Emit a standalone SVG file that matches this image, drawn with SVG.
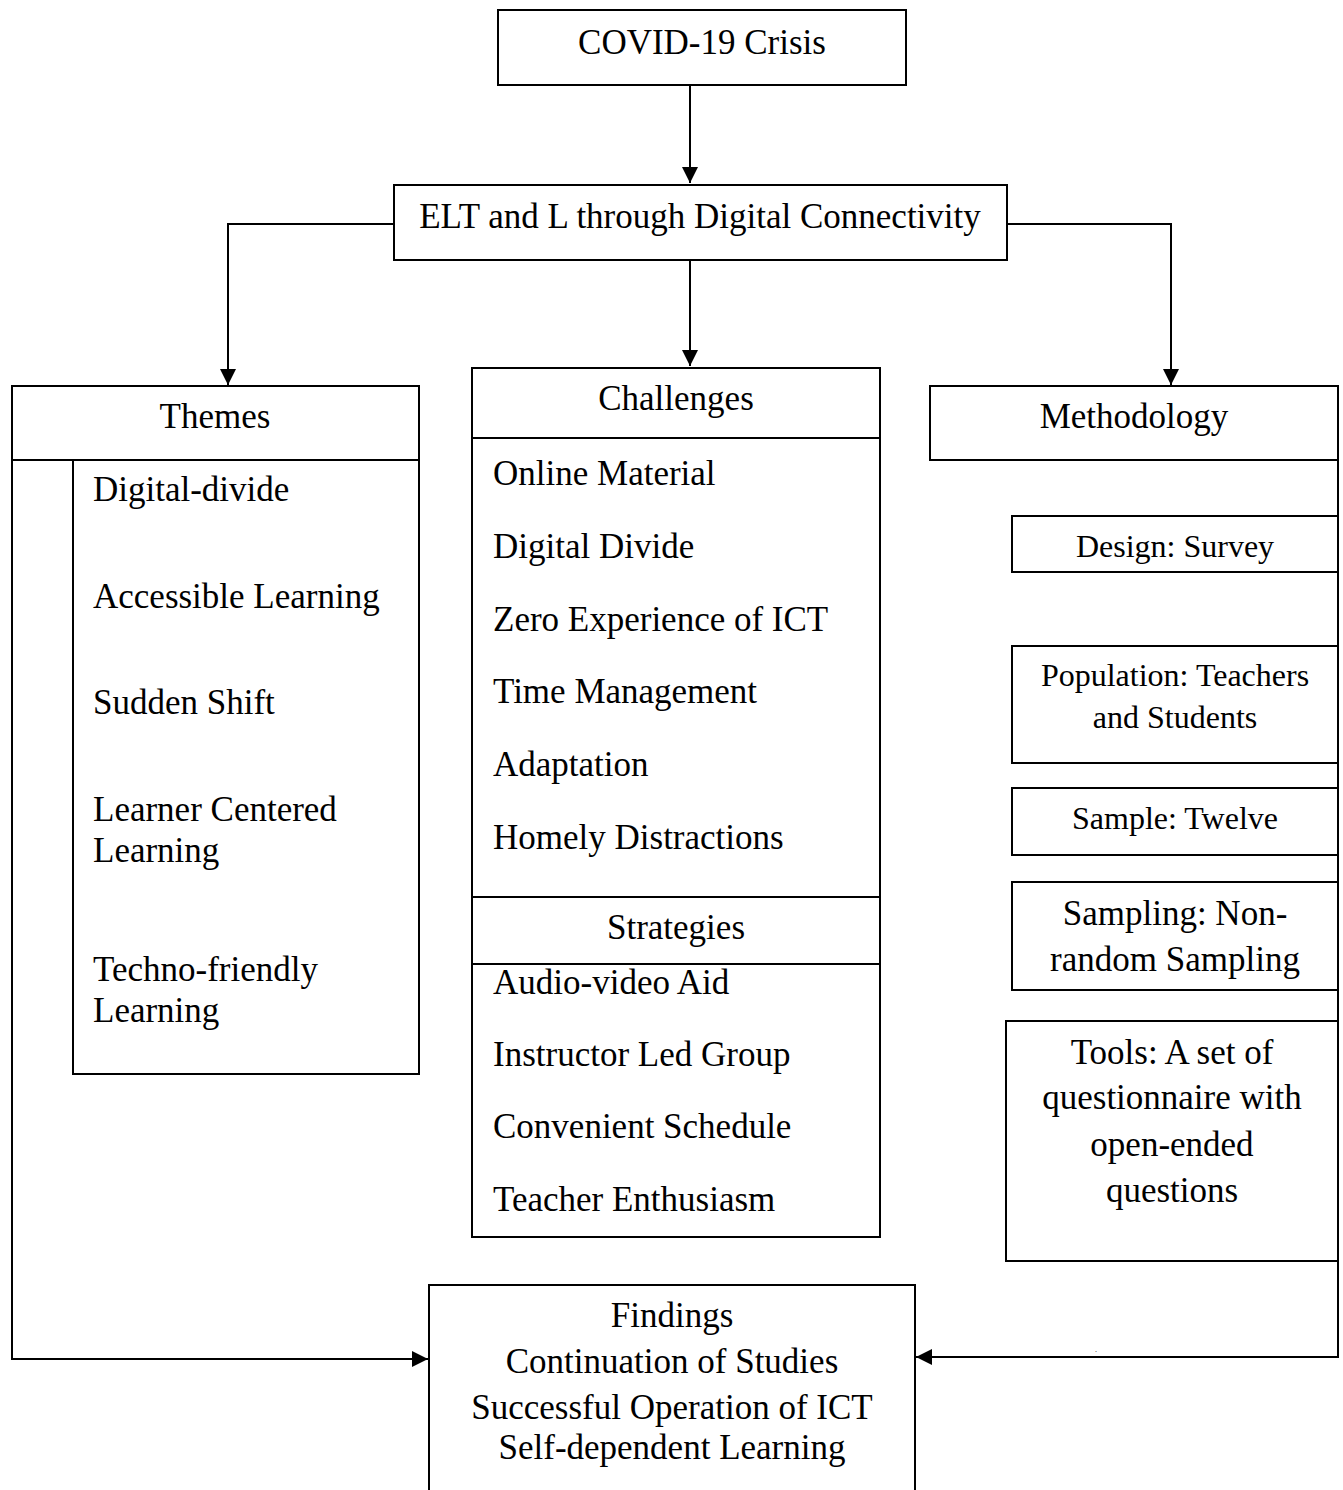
<svg xmlns="http://www.w3.org/2000/svg" width="1343" height="1490" viewBox="0 0 1343 1490">
<style>
rect, line.b { fill: #fff; stroke: #000; stroke-width: 2; }
.c { fill: none; stroke: #000; stroke-width: 2; }
text { font-family: "Liberation Serif", "Times New Roman", serif; font-size: 35px; fill: #000; }
.m { text-anchor: middle; }
.s { font-size: 32px; }
</style>
<defs>
<marker id="ah" markerWidth="18" markerHeight="18" refX="16" refY="8" orient="auto" markerUnits="userSpaceOnUse">
<path d="M0,0 L16,8 L0,16 Z" fill="#000"/>
</marker>
</defs>
<rect x="0" y="0" width="1343" height="1490" style="stroke:none"/>
<g id="connectors">
<path class="c" d="M690,85 V183" marker-end="url(#ah)"/>
<path class="c" d="M690,260 V366" marker-end="url(#ah)"/>
<path class="c" d="M394,224 H228 V385" marker-end="url(#ah)"/>
<path class="c" d="M1007,224 H1171 V385" marker-end="url(#ah)"/>
<path class="c" d="M12,460 V1359 H428" marker-end="url(#ah)"/>
<path class="c" d="M1338,460 V1357 H916" marker-end="url(#ah)"/>
</g>
<g id="covid">
<rect x="498" y="10" width="408" height="75"/>
<text class="m" x="702" y="54">COVID-19 Crisis</text>
</g>
<g id="elt">
<rect x="394" y="185" width="613" height="75"/>
<text class="m" x="700" y="228">ELT and L through Digital Connectivity</text>
</g>
<g id="themes">
<rect x="12" y="386" width="407" height="74"/>
<text class="m" x="215" y="428">Themes</text>
</g>
<g id="themes-list">
<rect x="73" y="460" width="346" height="614"/>
<text x="93" y="501">Digital-divide</text>
<text x="93" y="608">Accessible Learning</text>
<text x="93" y="714">Sudden Shift</text>
<text x="93" y="821">Learner Centered</text>
<text x="93" y="862">Learning</text>
<text x="93" y="981">Techno-friendly</text>
<text x="93" y="1022">Learning</text>
</g>
<g id="challenges">
<rect x="472" y="368" width="408" height="869"/>
<line class="b" x1="472" y1="438" x2="880" y2="438"/>
<text class="m" x="676" y="410">Challenges</text>
<text x="493" y="485">Online Material</text>
<text x="493" y="558">Digital Divide</text>
<text x="493" y="631">Zero Experience of ICT</text>
<text x="493" y="703">Time Management</text>
<text x="493" y="776">Adaptation</text>
<text x="493" y="849">Homely Distractions</text>
</g>
<g id="strategies">
<line class="b" x1="472" y1="897" x2="880" y2="897"/>
<line class="b" x1="472" y1="964" x2="880" y2="964"/>
<text class="m" x="676" y="939">Strategies</text>
<text x="493" y="994">Audio-video Aid</text>
<text x="493" y="1066">Instructor Led Group</text>
<text x="493" y="1138">Convenient Schedule</text>
<text x="493" y="1211">Teacher Enthusiasm</text>
</g>
<g id="methodology">
<rect x="930" y="386" width="408" height="74"/>
<text class="m" x="1134" y="428">Methodology</text>
</g>
<g id="design">
<rect x="1012" y="516" width="326" height="56"/>
<text class="m s" x="1175" y="557">Design: Survey</text>
</g>
<g id="population">
<rect x="1012" y="646" width="326" height="117"/>
<text class="m s" x="1175" y="686">Population: Teachers</text>
<text class="m s" x="1175" y="728">and Students</text>
</g>
<g id="sample">
<rect x="1012" y="788" width="326" height="67"/>
<text class="m s" x="1175" y="829">Sample: Twelve</text>
</g>
<g id="sampling">
<rect x="1012" y="882" width="326" height="108"/>
<text class="m" x="1175" y="925">Sampling: Non-</text>
<text class="m" x="1175" y="971">random Sampling</text>
</g>
<g id="tools">
<rect x="1006" y="1021" width="332" height="240"/>
<text class="m" x="1172" y="1064">Tools: A set of</text>
<text class="m" x="1172" y="1109">questionnaire with</text>
<text class="m" x="1172" y="1156">open-ended</text>
<text class="m" x="1172" y="1202">questions</text>
</g>
<g id="findings">
<rect x="429" y="1285" width="486" height="210"/>
<text class="m" x="672" y="1327">Findings</text>
<text class="m" x="672" y="1373">Continuation of Studies</text>
<text class="m" x="672" y="1419">Successful Operation of ICT</text>
<text class="m" x="672" y="1459">Self-dependent Learning</text>
</g>
<text x="1095" y="1352" style="font-size:8px">.</text>
</svg>
